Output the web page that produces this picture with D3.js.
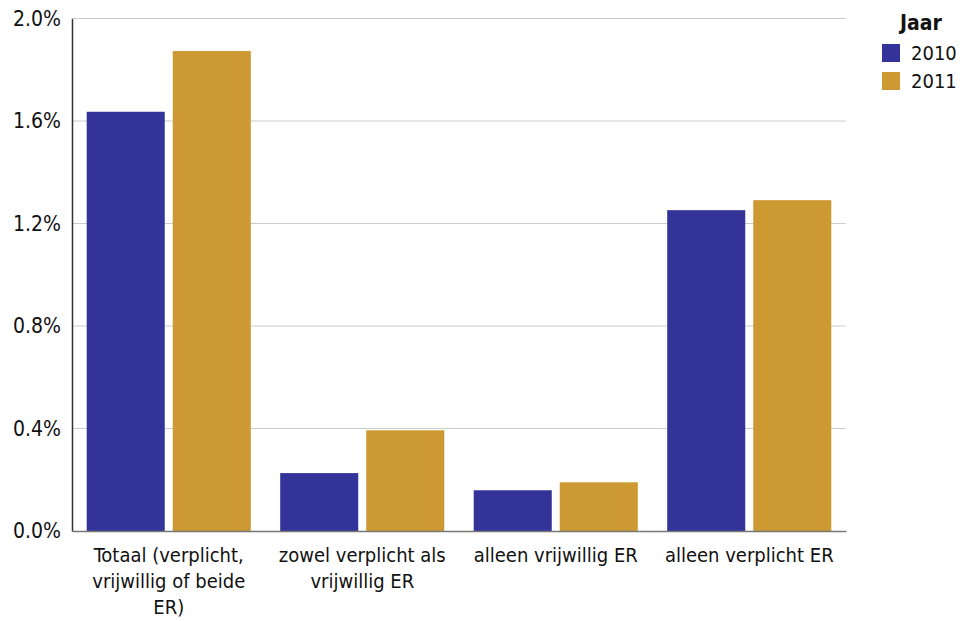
<!DOCTYPE html>
<html><head><meta charset="utf-8">
<script src="https://cdn.jsdelivr.net/npm/d3@7"></script>
<style>
body{margin:0;background:#fff;}
text{font-family:"DejaVu Sans Condensed","DejaVu Sans",sans-serif;fill:#111;}
</style></head>
<body><svg id="c" width="961" height="621"></svg>
<script>
const categories = ["Totaal (verplicht, vrijwillig of beide ER)", "zowel verplicht als vrijwillig ER", "alleen vrijwillig ER", "alleen verplicht ER"];
const years = ["2010", "2011"];
const values2010 = [1.636, 0.226, 0.159, 1.252];
const values2011 = [1.873, 0.393, 0.190, 1.291];
const yTicks = [0, 0.4, 0.8, 1.2, 1.6, 2.0];
const colors = ["#333399", "#CC9933"];
const legendTitle = "Jaar";

const series = [values2010, values2011];
const svg = d3.select("#c");
const m = {l:72, r:846, t:18.5, b:531};
const FF = "'DejaVu Sans Condensed','DejaVu Sans',sans-serif";

const x0 = d3.scaleBand().domain(categories).range([m.l, m.r]).paddingInner(0.152).paddingOuter(0.076);
const x1 = d3.scaleBand().domain(years).range([0, x0.bandwidth()]).paddingInner(0.093);
const y = d3.scaleLinear().domain([0, 2]).range([m.b, m.t]);

// gridlines
svg.append("g").selectAll("line").data(yTicks.filter(d=>d>0)).join("line")
  .attr("x1", m.l).attr("x2", m.r).attr("y1", d=>y(d)).attr("y2", d=>y(d))
  .attr("stroke", "#cccccc").attr("stroke-width", 1);

// bars
const rows = categories.map((c,i)=>({c, vals: years.map((yr,j)=>({yr, v: series[j][i], j}))}));
svg.append("g").selectAll("g").data(rows).join("g")
  .attr("transform", d=>`translate(${x0(d.c)},0)`)
  .selectAll("rect").data(d=>d.vals).join("rect")
  .attr("x", d=>x1(d.yr)).attr("width", x1.bandwidth())
  .attr("y", d=>y(d.v)).attr("height", d=>y(0)-y(d.v))
  .attr("fill", d=>colors[d.j]);

// y axis
const yAxis = d3.axisLeft(y).tickValues(yTicks).tickFormat(d=>d3.format(".1f")(d)+"%").tickSize(0).tickPadding(11);
const ga = svg.append("g").attr("transform", `translate(${m.l},0)`).call(yAxis);
ga.select(".domain").attr("stroke", "#333").attr("stroke-width", 1.5);
ga.selectAll("text").style("font-size","21px").style("font-family",FF).attr("fill","#111");

// x axis
const xAxis = d3.axisBottom(x0).tickSize(0).tickPadding(17);
const gx = svg.append("g").attr("transform", `translate(0,${m.b})`).call(xAxis);
gx.select(".domain").attr("stroke", "#777").attr("stroke-width", 1.5);
gx.selectAll("text").style("font-size","20px").style("font-family",FF).attr("fill","#111")
  .each(function(){ wrap(d3.select(this), 182); });

function wrap(t, width){
  const words = t.text().split(/\s+/);
  t.text(null);
  const yv = t.attr("y"), dy = parseFloat(t.attr("dy"));
  let line = [], ln = 0;
  let ts = t.append("tspan").attr("x",0).attr("y",yv).attr("dy", dy+"em");
  for (const w of words){
    line.push(w); ts.text(line.join(" "));
    if (ts.node().getComputedTextLength() > width && line.length>1){
      line.pop(); ts.text(line.join(" "));
      line=[w]; ln++;
      ts = t.append("tspan").attr("x",0).attr("y",yv).attr("dy", (dy + ln*1.3)+"em").text(w);
    }
  }
}

// legend
const lg = svg.append("g");
lg.append("text").attr("x", 921).attr("y", 30).attr("text-anchor","middle")
  .style("font-size","21px").style("font-weight","bold").style("font-family",FF).text(legendTitle);
const li = lg.selectAll("g").data(years).join("g").attr("transform",(d,i)=>`translate(882,${44+i*28})`);
li.append("rect").attr("width",18).attr("height",18).attr("fill",(d,i)=>colors[i]);
li.append("text").attr("x",29).attr("y",9).attr("dy","0.36em").style("font-size","20px").style("font-family",FF).text(d=>d);
</script></body></html>
